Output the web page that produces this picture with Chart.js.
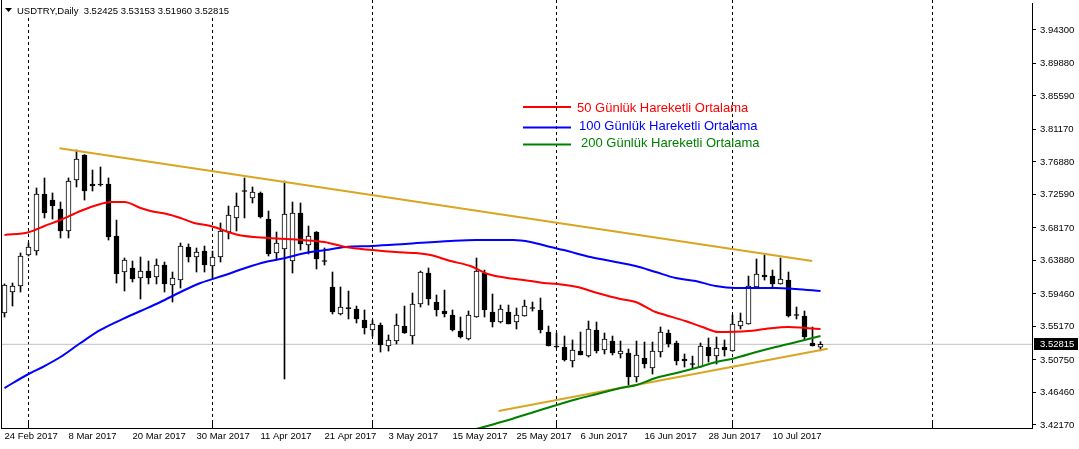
<!DOCTYPE html>
<html><head><meta charset="utf-8">
<script src="https://cdn.jsdelivr.net/npm/chart.js@4.4.1/dist/chart.umd.min.js"></script>
<style>html,body{margin:0;padding:0;background:#fff;overflow:hidden}canvas{display:block}</style>
</head><body><canvas id="c" width="1079" height="449"></canvas>
<script>
const symbolTitle = 'USDTRY,Daily';
const headerValues = ['3.52425', '3.53153', '3.51960', '3.52815'];
const dateLabels = ['24 Feb 2017','8 Mar 2017','20 Mar 2017','30 Mar 2017','11 Apr 2017','21 Apr 2017','3 May 2017','15 May 2017','25 May 2017','6 Jun 2017','16 Jun 2017','28 Jun 2017','10 Jul 2017'];
const dateLabelIdx = [0,8,16,24,32,40,48,56,64,72,80,88,96];
const separatorIdx = [3,26,46,69,91,116];
const yTicks = [3.42170,3.46460,3.50750,3.55170,3.59460,3.63880,3.68170,3.72590,3.76880,3.81170,3.85590,3.89880,3.94300];

const open = [3.5695,3.5972,3.6051,3.6460,3.6513,3.7266,3.7186,3.7068,3.6777,3.7450,
3.7780,3.7398,3.7398,3.7398,3.6711,3.6236,3.6289,3.6157,3.6249,3.6170,
3.6328,3.6064,3.6130,3.6566,3.6434,3.6513,3.6315,3.6434,3.6764,3.6949,
3.7305,3.7213,3.7279,3.6936,3.6487,3.6540,3.6381,3.7015,3.6592,3.6764,
3.6381,3.6038,3.5682,3.5761,3.5748,3.5602,3.5471,3.5537,3.5259,3.5325,
3.5523,3.5391,3.5814,3.6223,3.5840,3.5721,3.5669,3.5457,3.5352,3.5642,
3.6223,3.5708,3.5576,3.5708,3.5576,3.5655,3.5761,3.5735,3.5444,3.5259,
3.5246,3.5061,3.5193,3.5127,3.5471,3.5207,3.5325,3.5154,3.5167,3.4850,
3.5101,3.4969,3.5180,3.5431,3.5299,3.5088,3.5022,3.4982,3.5246,3.5127,
3.5246,3.5193,3.5523,3.5550,3.6038,3.6196,3.6183,3.6078,3.6130,3.5669,
3.5655,3.5299,3.52425];
const high = [3.6078,3.6091,3.6487,3.6619,3.7345,3.7477,3.7279,3.7160,3.7477,3.7846,
3.7785,3.7582,3.7622,3.7477,3.6922,3.6421,3.6381,3.6434,3.6381,3.6408,
3.6368,3.6236,3.6619,3.6606,3.6553,3.6579,3.6513,3.6883,3.7107,3.7279,
3.7477,3.7358,3.7292,3.7041,3.6764,3.7437,3.7160,3.7147,3.6843,3.6770,
3.6553,3.6236,3.6038,3.5985,3.5787,3.5735,3.5602,3.5563,3.5405,3.5682,
3.5787,3.5959,3.6249,3.6289,3.5932,3.5998,3.5735,3.5642,3.5721,3.6421,
3.6262,3.5946,3.5800,3.5800,3.5761,3.5866,3.5840,3.5893,3.5523,3.5431,
3.5391,3.5339,3.5444,3.5589,3.5576,3.5431,3.5391,3.5325,3.5220,3.5325,
3.5312,3.5312,3.5510,3.5471,3.5325,3.5154,3.5127,3.5299,3.5365,3.5378,
3.5339,3.5669,3.5695,3.6183,3.6408,3.6460,3.6262,3.6421,3.6236,3.5774,
3.5721,3.5510,3.53153];
const low = [3.5642,3.5787,3.5972,3.6447,3.6460,3.6949,3.6936,3.6685,3.6685,3.7358,
3.7186,3.7305,3.7371,3.6658,3.6091,3.5985,3.6104,3.5880,3.6078,3.6078,
3.5972,3.5840,3.6025,3.6368,3.6236,3.6236,3.6157,3.6368,3.6672,3.6777,
3.6949,3.7147,3.6949,3.6447,3.6394,3.4824,3.6223,3.6526,3.6474,3.6276,
3.6328,3.5682,3.5669,3.5616,3.5563,3.5418,3.5391,3.5180,3.5193,3.5286,
3.5425,3.5286,3.5774,3.5800,3.5655,3.5642,3.5457,3.5365,3.5339,3.5638,
3.5642,3.5510,3.5563,3.5550,3.5484,3.5652,3.5721,3.5431,3.5259,3.5233,
3.5061,3.4982,3.5141,3.5114,3.5167,3.5154,3.5141,3.5101,3.4745,3.4784,
3.4969,3.4890,3.5114,3.5246,3.5009,3.4982,3.4969,3.4979,3.5048,3.5022,
3.5127,3.5190,3.5484,3.5547,3.6035,3.6130,3.6038,3.6075,3.5642,3.5616,
3.5339,3.5259,3.51960];
const close = [3.6064,3.6051,3.6447,3.6566,3.7266,3.7015,3.7107,3.6777,3.7437,3.7727,
3.7305,3.7371,3.7384,3.6698,3.6210,3.6394,3.6144,3.6249,3.6157,3.6328,
3.6078,3.6157,3.6579,3.6434,3.6500,3.6328,3.6434,3.6777,3.6988,3.7107,
3.7305,3.7292,3.6962,3.6474,3.6619,3.7002,3.7015,3.6606,3.6711,3.6408,
3.6381,3.5708,3.5774,3.5758,3.5616,3.5497,3.5550,3.5273,3.5339,3.5537,
3.5431,3.5814,3.6236,3.5880,3.5735,3.5682,3.5471,3.5378,3.5669,3.6249,
3.5735,3.5576,3.5748,3.5550,3.5669,3.5787,3.5761,3.5471,3.5259,3.5246,
3.5075,3.5207,3.5141,3.5484,3.5193,3.5352,3.5167,3.5193,3.4850,3.5141,
3.5022,3.5193,3.5444,3.5286,3.5061,3.5061,3.5022,3.5259,3.5127,3.5233,
3.5207,3.5550,3.5589,3.6051,3.6210,3.6170,3.6078,3.6144,3.5655,3.5669,
3.5378,3.5259,3.52815];

const ma50Idx = [0,3,5,7,9.5,12,13.25,15,17,18.25,20.3,22,23.7,25.75,29.25,33,37.25,40,42.6,46,48.9,51.4,53.25,55.75,58.25,60.4,62.9,65.75,67.4,69.1,71.6,74.1,77,78.9,81.4,82.6,85.1,87.25,89.25,93,95.1,98,100.1,102];
const ma50Val = [3.6724,3.6760,3.6843,3.6922,3.7041,3.7134,3.7160,3.7160,3.7081,3.7041,3.7002,3.6949,3.6883,3.6843,3.6724,3.6685,3.6658,3.6632,3.6566,3.6526,3.6500,3.6487,3.6460,3.6381,3.6315,3.6210,3.6157,3.6117,3.6091,3.6078,3.6038,3.5959,3.5880,3.5840,3.5708,3.5669,3.5589,3.5510,3.5444,3.5457,3.5484,3.5510,3.5497,3.5484];
const ma100Idx = [0,3,5,7,9.5,12,14.5,17,19.5,22,24.5,27.6,30.1,32.6,35.1,37.6,40.1,42.6,46,50.1,55.75,59,63.6,65.75,68.25,69.9,73.25,76.4,78.9,81.4,83.9,86.4,88.9,91.4,96.4,98.9,102];
const ma100Val = [3.4705,3.4890,3.4995,3.5114,3.5299,3.5471,3.5602,3.5721,3.5840,3.5972,3.6091,3.6196,3.6289,3.6368,3.6421,3.6487,3.6526,3.6566,3.6579,3.6606,3.6645,3.6658,3.6658,3.6632,3.6566,3.6526,3.6434,3.6368,3.6315,3.6236,3.6157,3.6117,3.6051,3.6025,3.6025,3.6012,3.5985];
const ma200Idx = [58.5,63,67,71.6,74.1,77,79,81.4,84,86.4,89,91.4,94,96.4,99,102];
const ma200Val = [3.4151,3.4283,3.4415,3.4560,3.4626,3.4705,3.4745,3.4837,3.4903,3.4969,3.5048,3.5101,3.5180,3.5246,3.5312,3.5391];
const upperTrendIdx = [6.875,100.96];
const upperTrendVal = [3.7869,3.6381];
const lowerTrendIdx = [61.75,102.9];
const lowerTrendVal = [3.4402,3.5224];
const currentPrice = 3.52815;
const legendNames = ['50 Günlük Hareketli Ortalama','100 Günlük Hareketli Ortalama','200 Günlük Hareketli Ortalama'];
const legendColors = ['#ff0000','#0000ff','#008000'];

const FONT = "'Liberation Sans', Arial, sans-serif";
const xMin = -0.4375, xMax = 128.4375;
const yMax = 3.978634, yMin = 3.417726;

const idx = open.map((_, i) => i);
const wickData = idx.map(i => ({x: i, y: [low[i], high[i]]}));
const bodyData = [], bodyColors = [];
idx.forEach(i => {
  let lo = Math.min(open[i], close[i]), hi = Math.max(open[i], close[i]);
  let col = close[i] >= open[i] ? '#ffffff' : '#000000';
  if (hi - lo < 0.0012) { const m = (hi + lo) / 2; lo = m - 0.00066; hi = m + 0.00066; col = '#000000'; }
  bodyData.push({x: i, y: [lo, hi]});
  bodyColors.push(col);
});
const toPts = (a, b) => a.map((v, k) => ({x: v, y: b[k]}));

const overlay = {
  id: 'overlay',
  beforeDatasetsDraw(chart) {
    const {ctx, chartArea: ca, scales: {x}} = chart;
    ctx.save();
    ctx.strokeStyle = '#000'; ctx.lineWidth = 1; ctx.setLineDash([3, 3]);
    separatorIdx.forEach(i => {
      const px = x.getPixelForValue(i);
      if (px < ca.left || px > ca.right) return;
      ctx.beginPath(); ctx.moveTo(px, 0); ctx.lineTo(px, ca.bottom); ctx.stroke();
    });
    ctx.setLineDash([]);
    separatorIdx.forEach(i => {
      const px = x.getPixelForValue(i);
      ctx.beginPath(); ctx.moveTo(px, ca.bottom - 6); ctx.lineTo(px, ca.bottom); ctx.stroke();
    });
    ctx.restore();
  },
  afterDraw(chart) {
    const {ctx, chartArea: ca, scales: {y}} = chart;
    ctx.save();
    ctx.strokeStyle = '#000'; ctx.lineWidth = 1;
    ctx.beginPath(); ctx.moveTo(ca.left + 0.5, 0); ctx.lineTo(ca.left + 0.5, ca.bottom); ctx.stroke();
    ctx.fillStyle = '#fff';
    ctx.fillRect(2, 0, 230, 15);
    ctx.fillStyle = '#000';
    ctx.beginPath(); ctx.moveTo(5, 8); ctx.lineTo(12, 8); ctx.lineTo(8.5, 12); ctx.closePath(); ctx.fill();
    ctx.font = '9.5px ' + FONT; ctx.textBaseline = 'middle'; ctx.textAlign = 'left';
    ctx.fillText(symbolTitle + '  ' + headerValues.join(' '), 17, 11);
    const py = Math.round(y.getPixelForValue(currentPrice));
    ctx.fillStyle = '#000';
    ctx.fillRect(ca.right + 2, py - 6, 44, 12);
    ctx.fillStyle = '#fff'; ctx.font = '9.5px ' + FONT;
    ctx.fillText(currentPrice.toFixed(5), ca.right + 8, py + 0.5);
    const ly = [107, 127.5, 144.5], ty = [108, 126, 143], tx = [577, 579, 581];
    ctx.font = '13px ' + FONT;
    legendNames.forEach((n, k) => {
      ctx.strokeStyle = legendColors[k]; ctx.lineWidth = 2;
      ctx.beginPath(); ctx.moveTo(523, ly[k]); ctx.lineTo(571, ly[k]); ctx.stroke();
      ctx.fillStyle = legendColors[k];
      ctx.fillText(n, tx[k], ty[k]);
    });
    ctx.restore();
  }
};

Chart.defaults.font.family = FONT;
new Chart(document.getElementById('c'), {
  type: 'bar',
  data: {
    datasets: [
      {type: 'line', data: toPts(ma50Idx, ma50Val), borderColor: '#ff0000', borderWidth: 2, pointRadius: 0, cubicInterpolationMode: 'monotone', order: 1},
      {type: 'line', data: toPts(ma100Idx, ma100Val), borderColor: '#0000ff', borderWidth: 2, pointRadius: 0, cubicInterpolationMode: 'monotone', order: 1},
      {type: 'line', data: toPts(ma200Idx, ma200Val), borderColor: '#008000', borderWidth: 2, pointRadius: 0, cubicInterpolationMode: 'monotone', order: 1},
      {type: 'line', data: toPts(upperTrendIdx, upperTrendVal), borderColor: '#daa520', borderWidth: 2, pointRadius: 0, order: 2},
      {type: 'line', data: toPts(lowerTrendIdx, lowerTrendVal), borderColor: '#daa520', borderWidth: 2, pointRadius: 0, order: 2},
      {type: 'bar', data: bodyData, backgroundColor: bodyColors, borderColor: '#000', borderWidth: 1, borderSkipped: false, barThickness: 5, grouped: false, order: 5},
      {type: 'bar', data: wickData, backgroundColor: '#000', borderWidth: 0, barThickness: 1, grouped: false, order: 6},
      {type: 'line', data: [{x: xMin, y: currentPrice}, {x: xMax, y: currentPrice}], borderColor: '#c0c0c0', borderWidth: 1, pointRadius: 0, order: 9}
    ]
  },
  options: {
    responsive: false, animation: false, devicePixelRatio: 1,
    layout: {padding: {left: 1, top: 3, right: 0, bottom: 0}},
    plugins: {legend: {display: false}, tooltip: {enabled: false}, title: {display: false}},
    scales: {
      x: {
        type: 'linear', min: xMin, max: xMax, offset: false,
        grid: {display: false, offset: false, drawTicks: false},
        border: {display: true, color: '#000', width: 1},
        afterBuildTicks: s => { s.ticks = dateLabelIdx.map(v => ({value: v})); },
        afterFit: s => { s.height = 21; s.paddingLeft = 0; s.paddingRight = 0; },
        ticks: {
          autoSkip: false, maxRotation: 0, minRotation: 0, align: 'start', padding: 3,
          color: '#000', font: {size: 9.5, family: FONT},
          callback: v => { const k = dateLabelIdx.indexOf(v); return k >= 0 ? dateLabels[k] : ''; }
        }
      },
      y: {
        type: 'linear', position: 'right', min: yMin, max: yMax,
        grid: {drawOnChartArea: false, drawTicks: true, tickLength: 4, color: '#000'},
        border: {display: true, color: '#000', width: 1},
        afterBuildTicks: s => { s.ticks = yTicks.map(v => ({value: v})); },
        afterFit: s => { s.width = 47; s.paddingTop = 0; s.paddingBottom = 0; },
        ticks: {autoSkip: false, padding: 4, color: '#000', font: {size: 9.5, family: FONT}, callback: v => Number(v).toFixed(5)}
      }
    }
  },
  plugins: [overlay]
});
</script></body></html>
